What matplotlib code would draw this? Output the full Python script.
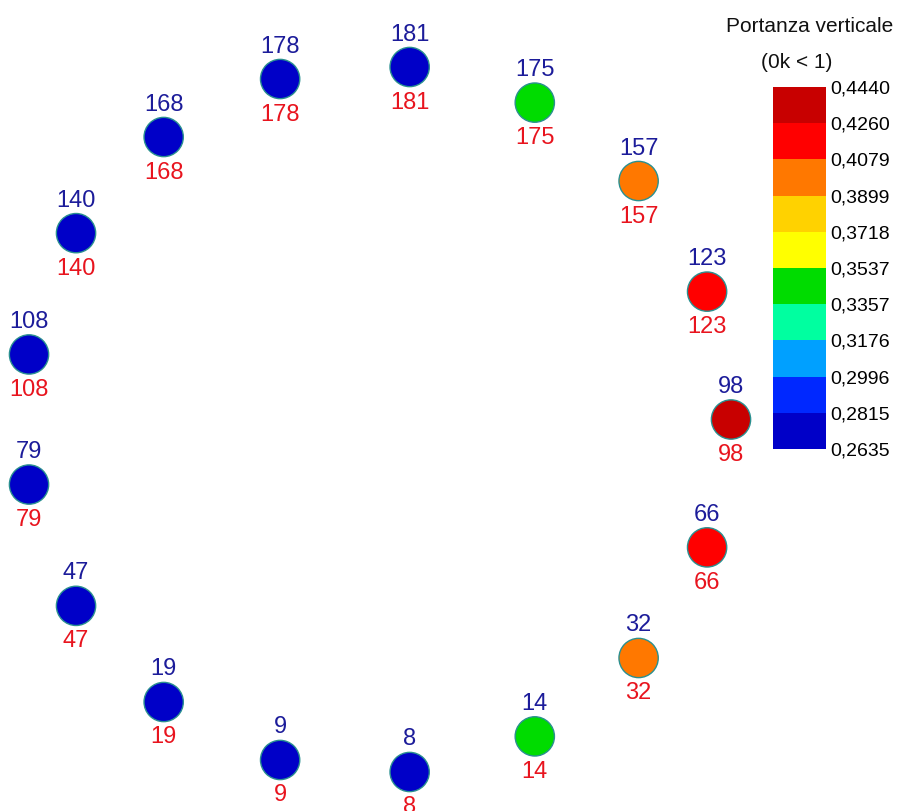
import numpy as np
import matplotlib
matplotlib.use("Agg")
import matplotlib.pyplot as plt
from matplotlib.colors import ListedColormap, BoundaryNorm
from matplotlib.cm import ScalarMappable

# point labels, going anticlockwise starting from the rightmost point
labels = [98, 123, 157, 175, 181, 178, 168, 140, 108, 79, 47, 19, 9, 8, 14, 32, 66]
# vertical lift value (portanza verticale) for each point
values = [0.440, 0.418, 0.398, 0.345, 0.268, 0.270, 0.273, 0.276, 0.278,
          0.278, 0.275, 0.272, 0.268, 0.266, 0.343, 0.400, 0.417]

levels = [0.2635, 0.2815, 0.2996, 0.3176, 0.3357, 0.3537,
          0.3718, 0.3899, 0.4079, 0.4260, 0.4440]
level_colors = ['#0000c8', '#0028ff', '#00a0ff', '#00ffa0', '#00dc00',
                '#ffff00', '#ffd200', '#ff7800', '#ff0000', '#c80000']

cmap = ListedColormap(level_colors)
norm = BoundaryNorm(levels, cmap.N)

plt.rcParams['font.family'] = ['Liberation Sans', 'DejaVu Sans']

fig = plt.figure(figsize=(8.97, 8.11), dpi=100)
ax = fig.add_axes([0, 0, 1, 1])
ax.set_xlim(0, 897)
ax.set_ylim(811, 0)
ax.axis('off')

# points sit evenly on a circle
cx, cy, r = 377, 419.5, 354
ang = np.arange(len(labels)) * 2 * np.pi / len(labels)
xs = cx + r * np.cos(ang)
ys = cy - r * np.sin(ang)

ax.scatter(xs, ys, c=values, cmap=cmap, norm=norm, s=800,
           edgecolors='#2a9090', linewidths=1.0, zorder=3)

for x, y, lab in zip(xs, ys, labels):
    ax.text(x, y - 35, str(lab), ha='center', va='center_baseline',
            fontsize=17, color='#1c1c9a', zorder=4)
    ax.text(x, y + 33, str(lab), ha='center', va='center_baseline',
            fontsize=17, color='#e8141e', zorder=4)

# colour legend
cax = fig.add_axes([773 / 897, 1 - 449 / 811, 53 / 897, 362 / 811])
sm = ScalarMappable(norm=norm, cmap=cmap)
cb = fig.colorbar(sm, cax=cax, ticks=levels)
cb.ax.set_yticklabels([f"{v:.4f}".replace('.', ',') for v in levels])
cb.ax.tick_params(length=0, labelsize=14, pad=3)
cb.outline.set_visible(False)

ax.text(810, 27, "Portanza verticale", ha='center', va='center',
        fontsize=15, color='#111111')
ax.text(797, 62, "(0k < 1)", ha='center', va='center',
        fontsize=15, color='#111111')

fig.savefig("out.png", dpi=100)
